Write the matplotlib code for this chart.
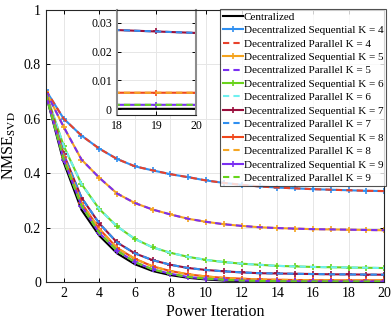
import numpy as np
import matplotlib
matplotlib.use("Agg")
import matplotlib.pyplot as plt

plt.rcParams['font.family'] = ['Liberation Serif', 'DejaVu Serif']
plt.rcParams['mathtext.fontset'] = 'stix'

# power iterations
it = np.arange(1, 21)

# NMSE values (parallel curves overlap sequential ones)
central = [0.69, 0.44, 0.265, 0.17, 0.105, 0.065, 0.04, 0.025, 0.015, 0.009,
           0.005, 0.003, 0.002, 0.001, 0.0005, 0.0003, 0.0002, 0.0001, 0.0001, 0.0001]
k4 = [0.705, 0.60, 0.538, 0.49, 0.452, 0.425, 0.41, 0.396, 0.385, 0.373,
      0.364, 0.357, 0.351, 0.347, 0.344, 0.341, 0.339, 0.337, 0.335, 0.334]
k5 = [0.70, 0.57, 0.45, 0.383, 0.325, 0.29, 0.266, 0.248, 0.232, 0.221,
      0.212, 0.206, 0.201, 0.198, 0.196, 0.194, 0.193, 0.192, 0.191, 0.19]
k6 = [0.695, 0.50, 0.36, 0.268, 0.204, 0.158, 0.127, 0.107, 0.092, 0.081,
      0.073, 0.067, 0.063, 0.059, 0.057, 0.055, 0.054, 0.053, 0.052, 0.051]
k7 = [0.695, 0.47, 0.31, 0.215, 0.145, 0.105, 0.08, 0.063, 0.051, 0.044,
      0.039, 0.035, 0.032, 0.031, 0.030, 0.029, 0.028, 0.0275, 0.027, 0.0265]
k8 = [0.695, 0.46, 0.29, 0.195, 0.125, 0.085, 0.057, 0.04, 0.028, 0.02,
      0.015, 0.012, 0.009, 0.008, 0.007, 0.0065, 0.006, 0.0057, 0.0057, 0.0057]
k9 = [0.69, 0.45, 0.28, 0.18, 0.115, 0.073, 0.046, 0.03, 0.018, 0.012,
      0.008, 0.005, 0.0035, 0.0025, 0.002, 0.0018, 0.0016, 0.0015, 0.0015, 0.0015]

ks = [4, 5, 6, 7, 8, 9]
curves = [k4, k5, k6, k7, k8, k9]
seq_colors = ['#2f8ff0', '#f5a31d', '#6ad31c', '#9a0e3c', '#f0481c', '#7a2ff2']
par_colors = ['#e8412b', '#7a2ff2', '#6ff0f0', '#2f8ff0', '#f5a623', '#66d41a']


def draw(ax, lw=1.5):
    ax.plot(it, central, color='black', lw=lw, label='Centralized')
    for k, y, cs, cp in zip(ks, curves, seq_colors, par_colors):
        ax.plot(it, y, color=cs, lw=lw, marker='+', ms=4, mew=1.2,
                label=f'Decentralized Sequential K = {k}')
        ax.plot(it, y, color=cp, lw=lw, ls=(0, (3, 2)),
                label=f'Decentralized Parallel K = {k}')


def style(ax):
    ax.grid(True, color='#e6e6e6', lw=0.7)
    ax.set_axisbelow(True)
    ax.tick_params(direction='in', top=True, right=True, length=3, width=0.7)
    for s in ax.spines.values():
        s.set_color('#262626')
        s.set_linewidth(0.8)


fig = plt.figure(figsize=(3.92, 3.2), dpi=100)
ax = fig.add_axes([0.117, 0.119, 0.863, 0.85])
draw(ax)
style(ax)
ax.set_xlim(1, 20)
ax.set_ylim(0, 1)
ax.set_xticks(range(2, 21, 2))
ax.set_yticks([0, 0.2, 0.4, 0.6, 0.8, 1])
ax.set_yticklabels(['0', '0.2', '0.4', '0.6', '0.8', '1'])
ax.tick_params(labelsize=10)
ax.set_xlabel('Power Iteration', fontsize=11.5, labelpad=3)
ax.set_ylabel(r'NMSE$_{\mathrm{SVD}}$', fontsize=11.5, labelpad=4)

leg = ax.legend(loc='upper right', bbox_to_anchor=(1.006, 1.003), fontsize=8,
                frameon=True, fancybox=False, borderaxespad=0, handlelength=1.8,
                handletextpad=0.1, labelspacing=0.33, borderpad=0.25)
leg.get_frame().set_edgecolor('#262626')
leg.get_frame().set_linewidth(0.8)

# zoomed inset for the last iterations
ins = fig.add_axes([0.298, 0.641, 0.202, 0.328])
draw(ins)
style(ins)
ins.set_xlim(18, 20)
ins.set_ylim(-0.002, 0.0345)
ins.set_xticks([18, 19, 20])
ins.set_yticks([0, 0.01, 0.02, 0.03])
ins.set_yticklabels(['0', '0.01', '0.02', '0.03'])
ins.tick_params(labelsize=8.5)
for s in ['left', 'right']:
    ins.spines[s].set_color('#8c8c8c')
    ins.spines[s].set_linewidth(1.5)

fig.savefig('out.png', dpi=100)
